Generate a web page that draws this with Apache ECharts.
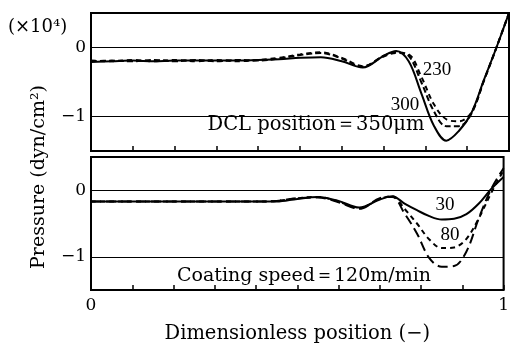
<!DOCTYPE html>
<html>
<head>
<meta charset="utf-8">
<script src="https://cdn.jsdelivr.net/npm/echarts@6/dist/echarts.min.js"></script>
<style>
  html, body { margin: 0; padding: 0; background: #fff; }
  #chart { width: 512px; height: 345px; }
</style>
</head>
<body>
<div id="chart"></div>
<script>
var FONT = '"DejaVu Serif", "Liberation Serif", serif';
var NUMFONT = '"Liberation Serif", "DejaVu Serif", serif';

// dimensionless position samples
var xs = [0, 0.05, 0.1, 0.15, 0.2, 0.25, 0.3, 0.35, 0.4, 0.45, 0.5, 0.55, 0.6, 0.65,
          0.7, 0.73, 0.76, 0.79, 0.82, 0.85, 0.88, 0.91, 0.94, 0.97, 1.0];

// upper panel: DCL position (um)
var dcl350 = [-0.21, -0.2, -0.19, -0.2, -0.19, -0.19, -0.19, -0.19, -0.18, -0.17, -0.15, -0.14, -0.2, -0.29,
              -0.12, -0.05, -0.2, -0.66, -1.13, -1.35, -1.21, -0.95, -0.47, 0.0, 0.5];
var dcl300 = [-0.2, -0.19, -0.2, -0.18, -0.2, -0.18, -0.2, -0.18, -0.19, -0.16, -0.11, -0.08, -0.16, -0.28,
              -0.12, -0.07, -0.12, -0.5, -0.92, -1.14, -1.14, -0.96, -0.48, 0.0, 0.5];
var dcl230 = [-0.19, -0.2, -0.18, -0.2, -0.18, -0.2, -0.18, -0.2, -0.18, -0.15, -0.1, -0.07, -0.15, -0.27,
              -0.13, -0.08, -0.1, -0.42, -0.82, -1.04, -1.07, -0.94, -0.48, 0.0, 0.5];

// lower panel: coating speed (m/min)
var spd30 = [-0.17, -0.17, -0.17, -0.17, -0.17, -0.17, -0.17, -0.17, -0.17, -0.17, -0.13, -0.1, -0.16, -0.26,
             -0.14, -0.09, -0.2, -0.3, -0.39, -0.44, -0.43, -0.36, -0.2, 0.02, 0.2];
var spd80 = [-0.17, -0.17, -0.17, -0.17, -0.17, -0.17, -0.17, -0.17, -0.17, -0.16, -0.12, -0.1, -0.17, -0.27,
             -0.13, -0.09, -0.28, -0.5, -0.74, -0.87, -0.86, -0.73, -0.42, -0.04, 0.3];
var spd120 = [-0.17, -0.17, -0.17, -0.17, -0.17, -0.17, -0.17, -0.17, -0.17, -0.16, -0.12, -0.11, -0.18, -0.28,
              -0.12, -0.1, -0.35, -0.65, -1.02, -1.15, -1.14, -0.92, -0.42, 0.02, 0.33];

var xTickLabels = { 0: '0', 1: '1' };
var yTickLabels = { '0': '0', '-1': '\u22121' };

function pairs(ys) {
    return xs.map(function (x, i) { return [x, ys[i]]; });
}

function lineSeries(ys, idx, dash) {
    return {
        type: 'line',
        xAxisIndex: idx,
        yAxisIndex: idx,
        data: pairs(ys),
        smooth: 0.35,
        symbol: 'none',
        lineStyle: { color: '#000', width: 2, type: dash }
    };
}

function refLines() {
    return {
        silent: true,
        symbol: 'none',
        label: { show: false },
        lineStyle: { color: '#000', width: 1.2, type: 'solid' },
        data: [{ yAxis: 0 }, { yAxis: -1 }]
    };
}

function xAxisCfg(idx, showLabels) {
    var ax = {
        type: 'value',
        gridIndex: idx,
        position: 'bottom',
        min: 0,
        max: 1,
        interval: 0.1,
        splitLine: { show: false },
        axisLine: { show: false, onZero: false },
        axisTick: { show: true, inside: true, length: 5, lineStyle: { color: '#000', width: 1.5 } },
        axisLabel: {
            show: showLabels,
            color: '#000',
            fontFamily: FONT,
            fontSize: 17,
            margin: 7,
            formatter: function (v) { return xTickLabels[Math.round(v * 10) / 10] || ''; }
        }
    };
    if (showLabels) {
        ax.name = 'Dimensionless position (\u2212)';
        ax.nameLocation = 'middle';
        ax.nameGap = 34;
        ax.nameTextStyle = { color: '#000', fontFamily: FONT, fontSize: 19.5 };
    }
    return ax;
}

function yAxisCfg(idx) {
    return {
        type: 'value',
        gridIndex: idx,
        min: -1.5,
        max: 0.5,
        interval: 0.5,
        splitLine: { show: false },
        axisLine: { show: false, onZero: false },
        axisTick: { show: false },
        axisLabel: {
            color: '#000',
            fontFamily: FONT,
            fontSize: 17,
            margin: 5,
            formatter: function (v) { return yTickLabels[String(v)] || ''; }
        }
    };
}

function txt(x, y, s, size, font, align) {
    return {
        type: 'text',
        x: x,
        y: y,
        style: {
            text: s,
            fill: '#000',
            font: size + 'px ' + font,
            align: align || 'center',
            verticalAlign: 'middle'
        }
    };
}

var chart = echarts.init(document.getElementById('chart'));

var s1 = lineSeries(dcl350, 0, 'solid');
s1.markLine = refLines();
var s4 = lineSeries(spd30, 1, 'solid');
s4.markLine = refLines();

chart.setOption({
    animation: false,
    backgroundColor: '#fff',
    grid: [
        { left: 91, top: 13, width: 418, height: 138, show: true, borderColor: '#000', borderWidth: 2, backgroundColor: 'transparent' },
        { left: 91, top: 157, width: 418, height: 136, show: true, borderColor: '#000', borderWidth: 2, backgroundColor: 'transparent' }
    ],
    xAxis: [xAxisCfg(0, false), xAxisCfg(1, true)],
    yAxis: [yAxisCfg(0), yAxisCfg(1)],
    series: [
        s1,
        lineSeries(dcl300, 0, [6, 3]),
        lineSeries(dcl230, 0, [5, 4]),
        s4,
        lineSeries(spd80, 1, [5, 4]),
        lineSeries(spd120, 1, [10, 5])
    ],
    graphic: [
        txt(8, 27, '(\u00d710\u2074)', 18, FONT, 'left'),
        txt(437, 70, '230', 19, NUMFONT),
        txt(405, 105, '300', 19, NUMFONT),
        txt(316, 125, 'DCL position\uff1d350\u03bcm', 19.5, FONT),
        txt(304, 276, 'Coating speed\uff1d120m/min', 19, FONT),
        txt(445, 205, '30', 19, NUMFONT),
        txt(450, 235, '80', 19, NUMFONT),
        {
            type: 'text',
            x: 39,
            y: 177,
            rotation: Math.PI / 2,
            style: {
                text: 'Pressure (dyn/cm\u00b2)',
                fill: '#000',
                font: '19px ' + FONT,
                align: 'center',
                verticalAlign: 'middle'
            }
        }
    ]
});
</script>
</body>
</html>
